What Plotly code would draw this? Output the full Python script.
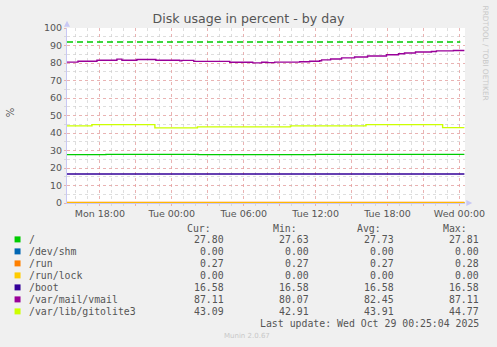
import plotly.graph_objects as go

# ---------------- data ----------------
title = "Disk usage in percent - by day"
y_label = "%"
names = ["/", "/dev/shm", "/run", "/run/lock", "/boot", "/var/mail/vmail", "/var/lib/gitolite3"]
colors = ["#00CC00", "#0066B3", "#FF8000", "#FFCC00", "#330099", "#990099", "#CCFF00"]
cur = [27.80, 0.00, 0.27, 0.00, 16.58, 87.11, 43.09]
mins = [27.63, 0.00, 0.27, 0.00, 16.58, 80.07, 42.91]
avgs = [27.73, 0.00, 0.27, 0.00, 16.58, 82.45, 43.91]
maxs = [27.81, 0.00, 0.28, 0.00, 16.58, 87.11, 44.77]
warning = 92
last_update = "Last update: Wed Oct 29 00:25:04 2025"
version = "Munin 2.0.67"
watermark = "RRDTOOL / TOBI OETIKER"

x_start = "2025-10-27 15:15"
x_end = "2025-10-29 00:28"

root_t = ["2025-10-27 15:15", "2025-10-27 18:30", "2025-10-28 02:12", "2025-10-28 12:00", "2025-10-29 00:25"]
root_v = [27.63, 27.81, 27.63, 27.80, 27.80]

shm_t = ["2025-10-27 15:15", "2025-10-29 00:25"]
shm_v = [0.00, 0.00]

run_t = ["2025-10-27 15:15", "2025-10-29 00:25"]
run_v = [0.27, 0.27]

lock_t = ["2025-10-27 15:15", "2025-10-29 00:25"]
lock_v = [0.00, 0.00]

boot_t = ["2025-10-27 15:15", "2025-10-29 00:25"]
boot_v = [16.58, 16.58]

vmail_t = ["2025-10-27 15:15", "2025-10-27 16:10", "2025-10-27 17:45", "2025-10-27 19:25",
           "2025-10-27 19:50", "2025-10-27 21:05", "2025-10-27 22:40", "2025-10-28 00:40",
           "2025-10-28 00:50", "2025-10-28 01:50", "2025-10-28 04:50", "2025-10-28 06:45",
           "2025-10-28 07:30", "2025-10-28 08:00", "2025-10-28 08:35", "2025-10-28 10:40",
           "2025-10-28 11:30", "2025-10-28 12:20", "2025-10-28 12:30", "2025-10-28 13:15",
           "2025-10-28 14:10", "2025-10-28 15:15", "2025-10-28 16:20", "2025-10-28 17:55",
           "2025-10-28 18:55", "2025-10-28 19:25", "2025-10-28 20:20", "2025-10-28 21:40",
           "2025-10-28 22:05", "2025-10-28 23:30", "2025-10-29 00:25"]
vmail_v = [80.5, 81.0, 81.6, 82.2,
           81.6, 82.0, 81.6, 81.2,
           81.5, 80.9, 80.4, 80.07,
           80.4, 80.2, 80.5, 80.7,
           81.0, 81.3, 81.8, 82.3,
           82.9, 83.4, 84.0, 84.7,
           85.3, 85.7, 86.3, 86.6,
           86.9, 87.11, 87.11]

git_t = ["2025-10-27 15:15", "2025-10-27 17:20", "2025-10-27 22:35", "2025-10-28 02:08",
         "2025-10-28 09:54", "2025-10-28 16:12", "2025-10-28 22:36", "2025-10-29 00:25"]
git_v = [44.1, 44.77, 42.91, 43.5, 44.1, 44.77, 43.09, 43.09]

series_t = [root_t, shm_t, run_t, lock_t, boot_t, vmail_t, git_t]
series_v = [root_v, shm_v, run_v, lock_v, boot_v, vmail_v, git_v]

x_tickvals = ["2025-10-27 18:00", "2025-10-27 21:00", "2025-10-28 00:00", "2025-10-28 03:00",
              "2025-10-28 06:00", "2025-10-28 09:00", "2025-10-28 12:00", "2025-10-28 15:00",
              "2025-10-28 18:00", "2025-10-28 21:00", "2025-10-29 00:00"]
x_ticktext = ["Mon 18:00", "", "Tue 00:00", "", "Tue 06:00", "", "Tue 12:00", "",
              "Tue 18:00", "", "Wed 00:00"]
y_tickvals = [0, 10, 20, 30, 40, 50, 60, 70, 80, 90, 100]

# ---------------- layout geometry ----------------
W, H = 497, 347
L, R, T, B = 66.7, 466.7, 28.3, 203.3
PW, PH = R - L, B - T


def px(x):
    return (x - L) / PW


def py(y):
    return (B - y) / PH


RED = "rgba(240,150,150,0.6)"
GRAY = "rgba(205,205,205,0.65)"
AXIS = "#C8C8F4"
TXT = "#555555"
MONO = "DejaVu Sans Mono"

fig = go.Figure()
for t, v, c, n in zip(series_t, series_v, colors, names):
    fig.add_trace(go.Scatter(x=t, y=v, mode="lines", line=dict(color=c, width=1.4, shape="hv"),
                             name=n, showlegend=False, hoverinfo="skip"))

shapes = []
# warning rule
shapes.append(dict(type="line", xref="paper", yref="y", x0=0, x1=px(462), y0=warning, y1=warning,
                   line=dict(color="#00CC00", width=1.5, dash="6px,4px"), layer="above"))
# axis arrows
shapes.append(dict(type="path", xref="paper", yref="paper",
                   path=f"M {px(63.7)} {py(27)} L {px(69.7)} {py(27)} L {px(66.7)} {py(21)} Z",
                   fillcolor=AXIS, line=dict(width=0), layer="above"))
shapes.append(dict(type="path", xref="paper", yref="paper",
                   path=f"M {px(468)} {py(200.3)} L {px(468)} {py(206.3)} L {px(474)} {py(203.3)} Z",
                   fillcolor=AXIS, line=dict(width=0), layer="above"))

annotations = []
# header row
hdr_y = 228.7
for lab, xr in zip(["Cur:", "Min:", "Avg:", "Max:"], [213, 299.5, 384.5, 470.5]):
    annotations.append(dict(text=lab, x=px(xr), y=py(hdr_y), xref="paper", yref="paper",
                            xanchor="right", yanchor="middle", showarrow=False,
                            font=dict(family=MONO, size=9.85, color=TXT)))
for i, n in enumerate(names):
    ry = 239.7 + 12 * i
    shapes.append(dict(type="rect", xref="paper", yref="paper",
                       x0=px(14), x1=px(20), y0=py(ry - 3), y1=py(ry + 3),
                       fillcolor=colors[i], line=dict(width=0)))
    annotations.append(dict(text=n, x=px(26.5), y=py(ry), xref="paper", yref="paper",
                            xanchor="left", yanchor="middle", showarrow=False,
                            font=dict(family=MONO, size=9.85, color=TXT)))
    for val, xr in zip([cur[i], mins[i], avgs[i], maxs[i]], [226, 312, 397, 482.5]):
        annotations.append(dict(text=f"{val:.2f}", x=px(xr), y=py(ry), xref="paper", yref="paper",
                                xanchor="right", yanchor="middle", showarrow=False,
                                font=dict(family=MONO, size=9.85, color=TXT)))
annotations.append(dict(text=last_update, x=px(482.5), y=py(323.7), xref="paper", yref="paper",
                        xanchor="right", yanchor="middle", showarrow=False,
                        font=dict(family=MONO, size=9.85, color=TXT)))
annotations.append(dict(text=version, x=px(248), y=py(336), xref="paper", yref="paper",
                        xanchor="center", yanchor="middle", showarrow=False,
                        font=dict(family="DejaVu Sans", size=7, color="#C8C8C8")))
annotations.append(dict(text=watermark, x=px(487.5), y=py(53.5), xref="paper", yref="paper",
                        xanchor="center", yanchor="middle", showarrow=False, textangle=90,
                        font=dict(family="DejaVu Sans", size=7.4, color="#C8C8C8")))
annotations.append(dict(text=y_label, x=px(10), y=py(113), xref="paper", yref="paper",
                        xanchor="center", yanchor="middle", showarrow=False, textangle=-90,
                        font=dict(family="DejaVu Sans", size=10, color=TXT)))

fig.update_layout(
    width=W, height=H,
    margin=dict(l=L, r=W - R, t=T, b=H - B, pad=0),
    paper_bgcolor="#F0F0F0", plot_bgcolor="#FFFFFF",
    font=dict(family="DejaVu Sans", color=TXT),
    title=dict(text=title, x=248.5 / W, y=1 - 19 / H, xref="container", yref="container",
               xanchor="center", yanchor="middle",
               font=dict(family="DejaVu Sans", size=12.6, color=TXT)),
    shapes=shapes, annotations=annotations,
    xaxis=dict(type="date", range=[x_start, x_end], tickmode="array",
               tickvals=x_tickvals, ticktext=x_ticktext,
               showgrid=True, gridcolor=RED, griddash="dot", gridwidth=1,
               ticks="outside", ticklen=2, tickcolor=RED,
               tickfont=dict(size=9.5, color=TXT),
               minor=dict(tickmode="linear", tick0="2025-10-27 00:00", dtick=3600000,
                          showgrid=True, gridcolor=GRAY, griddash="dot",
                          ticks="outside", ticklen=2, tickcolor=GRAY),
               showline=True, linecolor=AXIS, linewidth=1, zeroline=False, fixedrange=True),
    yaxis=dict(range=[0, 100], tickmode="array", tickvals=y_tickvals,
               showgrid=True, gridcolor=RED, griddash="dot", gridwidth=1,
               ticks="outside", ticklen=2, tickcolor=RED,
               tickfont=dict(size=9.5, color=TXT),
               minor=dict(tickmode="linear", tick0=0, dtick=5,
                          showgrid=True, gridcolor=GRAY, griddash="dot",
                          ticks="outside", ticklen=2, tickcolor=GRAY),
               showline=True, linecolor=AXIS, linewidth=1, zeroline=False, fixedrange=True),
)

fig.write_html("out.html")
